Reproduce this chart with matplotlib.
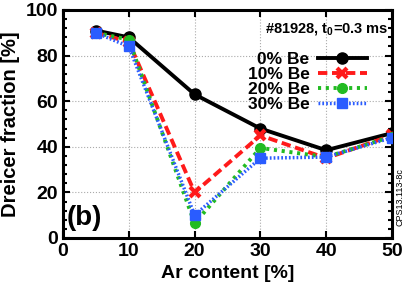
import numpy as np
import matplotlib
matplotlib.use('Agg')
import matplotlib.pyplot as plt
from matplotlib.ticker import MultipleLocator

plt.rcParams['font.family'] = ['Liberation Sans', 'DejaVu Sans']
plt.rcParams['font.weight'] = 'bold'
plt.rcParams['mathtext.fontset'] = 'custom'
plt.rcParams['mathtext.rm'] = 'Liberation Sans:bold'
plt.rcParams['mathtext.it'] = 'Liberation Sans:bold'

ar = [5, 10, 20, 30, 40, 50]
be0 = [91, 88, 63, 48, 38.5, 46]
be10 = [90, 86, 20, 45, 35, 45]
be20 = [90, 87, 6.5, 39.5, 35.5, 44.5]
be30 = [90, 84, 10, 35, 35.5, 44]

fig = plt.figure(figsize=(4.07, 2.92), dpi=100)
ax = fig.add_axes([63/407, 1-238/292, (392-63)/407, (238-10)/292])

ax.plot(ar, be0, color='black', lw=2.8, marker='o', ms=8, label='0% Be', zorder=5)
ax.plot(ar, be10, color='#ff1a1a', lw=2.8, ls=(0, (2.4, 1.2)), marker='x', ms=7, mew=3, label='10% Be', zorder=6)
ax.plot(ar, be20, color='#22bb22', lw=2.8, ls=(0, (0.8, 1.2)), marker='o', ms=7, label='20% Be', zorder=7)
ax.plot(ar, be30, color='#2a5cff', lw=2.5, ls=(0, (0.5, 0.6)), marker='s', ms=7.5, label='30% Be', zorder=8)

ax.set_xlim(0, 50)
ax.set_ylim(0, 100)
ax.xaxis.set_major_locator(MultipleLocator(10))
ax.yaxis.set_major_locator(MultipleLocator(20))
ax.yaxis.set_minor_locator(MultipleLocator(4))
ax.grid(True, which='major', color='#aaaaaa', ls=':', lw=0.8)
ax.tick_params(which='both', direction='in', top=True, right=True, labelsize=14, width=1.5)
ax.tick_params(which='major', length=5)
ax.tick_params(which='minor', length=3)
ax.tick_params(axis='x', which='minor', bottom=False, top=False)
for s in ax.spines.values():
    s.set_linewidth(2.2)

ax.set_xlabel('Ar content [%]', fontsize=14, fontweight='bold', labelpad=4)
ax.set_ylabel('Dreicer fraction [%]', fontsize=14.5, fontweight='bold', labelpad=4)

leg = ax.legend(loc='upper right', bbox_to_anchor=(0.96, 0.87), markerfirst=False, frameon=False,
                fontsize=12.5, handlelength=2.8, labelspacing=0.0, borderpad=0.2, handletextpad=0.5)
ax.text(0.99, 0.95, '#81928, t$_0$=0.3 ms', transform=ax.transAxes, ha='right', va='top', fontsize=10.5)
ax.text(0.012, 0.03, '(b)', transform=ax.transAxes, ha='left', va='bottom', fontsize=20, fontweight='bold')
fig.text(400/407, 1-197/292, 'CPS13.113-8c', rotation=90, ha='center', va='center', fontsize=6.5, fontweight='normal')

fig.savefig('out.png', dpi=100)
